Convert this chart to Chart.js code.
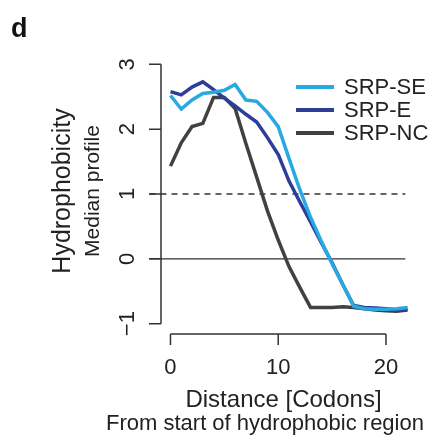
<!DOCTYPE html>
<html>
<head>
<meta charset="utf-8">
<script src="https://cdn.jsdelivr.net/npm/chart.js@4"></script>
<style>
  html, body { margin: 0; padding: 0; background: #fff; }
  canvas { display: block; }
</style>
</head>
<body>
<canvas id="c" width="429" height="441"></canvas>
<script>
// ── Данные ────────────────────────────────────────────
const codons = [0, 1, 2, 3, 4, 5, 6, 7, 8, 9, 10, 11, 12, 13, 14, 15, 16, 17, 18, 19, 20, 21, 22]
const srpSE = [2.52, 2.31, 2.45, 2.55, 2.57, 2.60, 2.69, 2.45, 2.43, 2.26, 2.04, 1.55, 1.07, 0.64, 0.27, -0.08, -0.40, -0.73, -0.77, -0.78, -0.78, -0.77, -0.75]
const srpE  = [2.58, 2.53, 2.65, 2.73, 2.61, 2.48, 2.36, 2.23, 2.11, 1.87, 1.61, 1.20, 0.88, 0.57, 0.25, -0.06, -0.40, -0.72, -0.75, -0.76, -0.77, -0.79, -0.77]
const srpNC = [1.43, 1.79, 2.04, 2.09, 2.49, 2.49, 2.32, 1.78, 1.26, 0.74, 0.29, -0.12, -0.44, -0.75, -0.75, -0.75, -0.74, -0.75, -0.77, -0.79, -0.80, -0.81, -0.79]
const seriesNames = ['SRP-SE', 'SRP-E', 'SRP-NC']
const xTicks = [0, 10, 20]
const yTicks = [-1, 0, 1, 2, 3]
const refLines = [{ y: 1, dashed: true }, { y: 0, dashed: false }]
const refSpan = [-1.95, 21.8]

const COLORS = ['#27a9e1', '#2c3e98', '#414141']
const FONT = '"Liberation Sans", Arial, Helvetica, sans-serif'
const INK = '#333'

const pts = arr => arr.map((v, i) => ({ x: codons[i], y: v }))

// R-style оси, подписи и легенда
const rAxes = {
  id: 'rAxes',
  beforeDatasetsDraw(chart) {
    const { ctx, scales: { x, y } } = chart
    ctx.save()
    ctx.strokeStyle = INK
    ctx.lineWidth = 1.3
    refLines.forEach(r => {
      ctx.setLineDash(r.dashed ? [6, 5] : [])
      ctx.beginPath()
      ctx.moveTo(x.getPixelForValue(refSpan[0]), y.getPixelForValue(r.y))
      ctx.lineTo(x.getPixelForValue(refSpan[1]), y.getPixelForValue(r.y))
      ctx.stroke()
    })
    ctx.restore()
  },
  afterDraw(chart) {
    const { ctx, chartArea: a, scales: { x, y } } = chart
    ctx.save()
    ctx.strokeStyle = INK
    ctx.fillStyle = '#222'
    ctx.lineWidth = 1.5

    // ось Y
    ctx.beginPath()
    ctx.moveTo(a.left, y.getPixelForValue(yTicks[0]))
    ctx.lineTo(a.left, y.getPixelForValue(yTicks[yTicks.length - 1]))
    yTicks.forEach(v => {
      const py = y.getPixelForValue(v)
      ctx.moveTo(a.left - 12, py)
      ctx.lineTo(a.left, py)
    })
    ctx.stroke()
    ctx.font = `22px ${FONT}`
    ctx.textAlign = 'center'
    ctx.textBaseline = 'middle'
    yTicks.forEach(v => {
      ctx.save()
      ctx.translate(127, y.getPixelForValue(v))
      ctx.rotate(-Math.PI / 2)
      ctx.fillText(v < 0 ? '\u2212' + Math.abs(v) : String(v), 0, 1)
      ctx.restore()
    })

    // ось X
    ctx.beginPath()
    ctx.moveTo(x.getPixelForValue(xTicks[0]), a.bottom)
    ctx.lineTo(x.getPixelForValue(xTicks[xTicks.length - 1]), a.bottom)
    xTicks.forEach(v => {
      const px = x.getPixelForValue(v)
      ctx.moveTo(px, a.bottom)
      ctx.lineTo(px, a.bottom + 11)
    })
    ctx.stroke()
    xTicks.forEach(v => ctx.fillText(String(v), x.getPixelForValue(v), 368))

    // заголовки осей
    ctx.textBaseline = 'alphabetic'
    ctx.font = `24px ${FONT}`
    ctx.fillText('Distance [Codons]', 283.5, 407)
    ctx.font = `22px ${FONT}`
    ctx.fillText('From start of hydrophobic region', 265, 430)

    ctx.textBaseline = 'middle'
    ctx.save()
    ctx.translate(63, 191)
    ctx.rotate(-Math.PI / 2)
    ctx.font = `25px ${FONT}`
    ctx.fillText('Hydrophobicity', 0, 0)
    ctx.restore()
    ctx.save()
    ctx.translate(93, 191)
    ctx.rotate(-Math.PI / 2)
    ctx.font = `21px ${FONT}`
    ctx.fillText('Median profile', 0, 0)
    ctx.restore()

    // буква панели
    ctx.textAlign = 'left'
    ctx.textBaseline = 'alphabetic'
    ctx.font = `bold 27px ${FONT}`
    ctx.fillStyle = '#111'
    ctx.fillText('d', 11, 37)

    // легенда
    ctx.font = `22px ${FONT}`
    ctx.fillStyle = '#222'
    ctx.textBaseline = 'middle'
    chart.data.datasets.forEach((ds, i) => {
      const ly = 87 + i * 23
      ctx.strokeStyle = ds.borderColor
      ctx.lineWidth = 4
      ctx.beginPath()
      ctx.moveTo(296, ly)
      ctx.lineTo(334, ly)
      ctx.stroke()
      ctx.fillText(ds.label, 344, ly + 1)
    })
    ctx.restore()
  }
}

new Chart(document.getElementById('c'), {
  type: 'line',
  data: {
    datasets: [srpSE, srpE, srpNC].map((s, i) => ({
      label: seriesNames[i],
      data: pts(s),
      borderColor: COLORS[i],
      borderWidth: 3.5,
      pointRadius: 0,
      tension: 0,
      fill: false,
    }))
  },
  options: {
    responsive: false,
    animation: false,
    layout: { padding: { left: 161, right: 12, top: 54, bottom: 107 } },
    plugins: { legend: { display: false }, tooltip: { enabled: false } },
    scales: {
      x: { type: 'linear', min: -0.88, max: 22.88, display: false },
      y: { min: -1.16, max: 3.16, display: false }
    }
  },
  plugins: [rAxes]
})
</script>
</body>
</html>
